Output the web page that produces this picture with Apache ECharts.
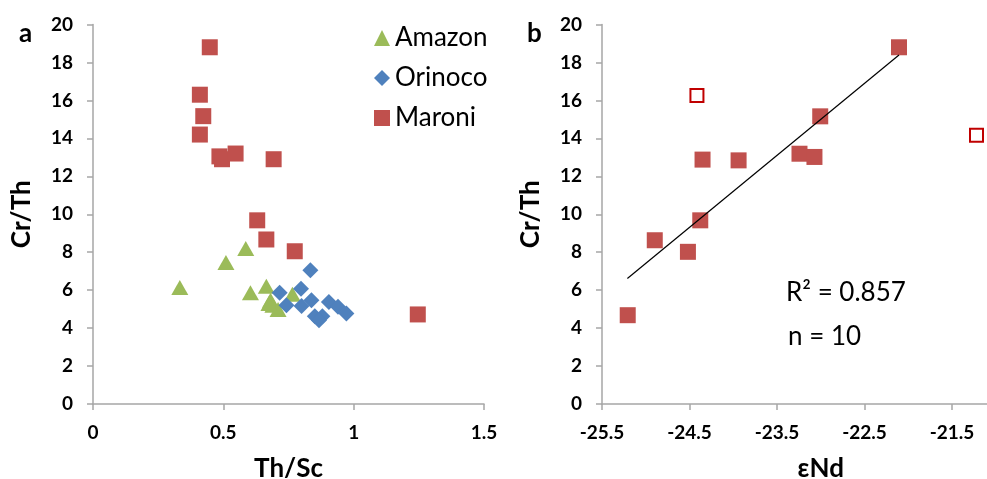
<!DOCTYPE html>
<html>
<head>
<meta charset="utf-8">
<script src="https://cdn.jsdelivr.net/npm/echarts@6/dist/echarts.min.js"></script>
<style>
  html, body { margin: 0; padding: 0; background: #fff; }
  #chart { width: 987px; height: 479px; }
</style>
</head>
<body>
<div id="chart"></div>
<script>
// Panel a: Cr/Th versus Th/Sc for the three river systems
const amazonThSc = [0.333, 0.51, 0.586, 0.604, 0.665, 0.681, 0.69, 0.71, 0.765, 0.675];
const amazonCrTh = [6.14, 7.46, 8.19, 5.86, 6.21, 5.47, 5.2, 4.98, 5.79, 5.3];

const orinocoThSc = [0.834, 0.798, 0.716, 0.742, 0.8, 0.838, 0.851, 0.88, 0.867, 0.905, 0.94, 0.972];
const orinocoCrTh = [7.05, 6.07, 5.86, 5.21, 5.16, 5.47, 4.63, 4.63, 4.42, 5.38, 5.12, 4.77];

const maroniThSc = [0.448, 0.41, 0.423, 0.41, 0.485, 0.495, 0.547, 0.693, 0.63, 0.665, 0.774, 1.246];
const maroniCrTh = [18.8, 16.3, 15.17, 14.2, 13.05, 12.9, 13.2, 12.9, 9.68, 8.67, 8.05, 4.72];

// Panel b: Cr/Th versus εNd for Maroni samples
const maroniNd = [-22.106, -23.006, -24.351, -23.939, -23.243, -23.072, -24.377, -24.897, -24.518, -25.206];
const maroniNdCrTh = [18.8, 15.16, 12.88, 12.84, 13.19, 13.02, 9.68, 8.63, 8.02, 4.68];

// Samples left out of the regression
const excludedNd = [-24.415, -21.22];
const excludedCrTh = [16.26, 14.16];

// Regression line end points
const trendNd = [-25.21, -22.106];
const trendCrTh = [6.61, 18.39];

const regressionLabel = 'R² = 0.857';
const countLabel = 'n = 10';

const yTicks = { min: 0, max: 20, interval: 2 };
const xTicksA = { min: 0, max: 1.5, interval: 0.5 };
const xTicksB = { min: -25.5, max: -20.5, interval: 1 };

const zip = (xs, ys) => xs.map((x, i) => [x, ys[i]]);

const FONT = 'Lato, "Open Sans", sans-serif';
const axisGray = '#A6A6A6';
const tickLabel = { color: '#000', fontFamily: FONT, fontWeight: 'bold', fontSize: 19 };

function valueAxis(extra) {
  return Object.assign({
    type: 'value',
    splitLine: { show: false },
    axisLine: { show: true, onZero: false, lineStyle: { color: axisGray, width: 1.5 } },
    axisTick: { show: true, inside: false, length: 6, lineStyle: { color: axisGray, width: 1.5 } },
    nameTextStyle: { color: '#000', fontFamily: FONT, fontWeight: 'bold', fontSize: 26 },
    nameLocation: 'middle'
  }, extra);
}

const chart = echarts.init(document.getElementById('chart'), null, { renderer: 'canvas' });

chart.setOption({
  backgroundColor: '#fff',
  animation: false,
  grid: [
    { left: 93, top: 24.5, right: 503, bottom: 75, containLabel: false, outerBoundsMode: 'none' },
    { left: 602, top: 24.5, right: -52.5, bottom: 75, containLabel: false, outerBoundsMode: 'none' }
  ],
  xAxis: [
    valueAxis({ gridIndex: 0, min: xTicksA.min, max: xTicksA.max, interval: xTicksA.interval,
      name: 'Th/Sc', nameGap: 52,
      axisLabel: Object.assign({ margin: 19 }, tickLabel) }),
    valueAxis({ gridIndex: 1, min: xTicksB.min, max: xTicksB.max, interval: xTicksB.interval,
      name: 'εNd', nameGap: 52,
      axisLabel: Object.assign({ margin: 19, formatter: v => v.toFixed(1) }, tickLabel) })
  ],
  yAxis: [
    valueAxis({ gridIndex: 0, min: yTicks.min, max: yTicks.max, interval: yTicks.interval,
      name: 'Cr/Th', nameGap: 58,
      axisLabel: Object.assign({ margin: 20 }, tickLabel) }),
    valueAxis({ gridIndex: 1, min: yTicks.min, max: yTicks.max, interval: yTicks.interval,
      name: 'Cr/Th', nameGap: 58,
      axisLabel: Object.assign({ margin: 20 }, tickLabel) })
  ],
  legend: {
    orient: 'vertical',
    left: 369,
    top: 20,
    itemWidth: 16,
    itemHeight: 16,
    itemGap: 14,
    data: ['Amazon', 'Orinoco', 'Maroni'],
    textStyle: { color: '#000', fontFamily: FONT, fontSize: 26 }
  },
  series: [
    {
      name: 'Amazon', type: 'scatter', xAxisIndex: 0, yAxisIndex: 0,
      symbol: 'triangle', symbolSize: [17, 15],
      itemStyle: { color: '#9BBB59', opacity: 1 },
      data: zip(amazonThSc, amazonCrTh)
    },
    {
      name: 'Orinoco', type: 'scatter', xAxisIndex: 0, yAxisIndex: 0,
      symbol: 'diamond', symbolSize: 16,
      itemStyle: { color: '#4F81BD', opacity: 1 },
      data: zip(orinocoThSc, orinocoCrTh)
    },
    {
      name: 'Maroni', type: 'scatter', xAxisIndex: 0, yAxisIndex: 0,
      symbol: 'rect', symbolSize: 16,
      itemStyle: { color: '#C0504D', opacity: 1 },
      data: zip(maroniThSc, maroniCrTh)
    },
    {
      name: 'Trend', type: 'line', xAxisIndex: 1, yAxisIndex: 1,
      showSymbol: false, symbol: 'none', silent: true,
      lineStyle: { color: '#000', width: 1.2 },
      data: zip(trendNd, trendCrTh)
    },
    {
      name: 'Maroni εNd', type: 'scatter', xAxisIndex: 1, yAxisIndex: 1,
      symbol: 'rect', symbolSize: 16,
      itemStyle: { color: '#C0504D', opacity: 1 },
      data: zip(maroniNd, maroniNdCrTh)
    },
    {
      name: 'Excluded', type: 'scatter', xAxisIndex: 1, yAxisIndex: 1,
      symbol: 'rect', symbolSize: 13,
      itemStyle: { color: '#fff', borderColor: '#C00000', borderWidth: 2, opacity: 1 },
      data: zip(excludedNd, excludedCrTh)
    }
  ],
  graphic: [
    { type: 'text', left: 19, top: 21,
      style: { text: 'a', fill: '#000', font: 'bold 26px ' + FONT } },
    { type: 'text', left: 527, top: 21,
      style: { text: 'b', fill: '#000', font: 'bold 26px ' + FONT } },
    { type: 'text', left: 786, top: 280,
      style: { text: regressionLabel, fill: '#000', font: '26px ' + FONT } },
    { type: 'text', left: 788, top: 324,
      style: { text: countLabel, fill: '#000', font: '26px ' + FONT } }
  ]
});
</script>
</body>
</html>
